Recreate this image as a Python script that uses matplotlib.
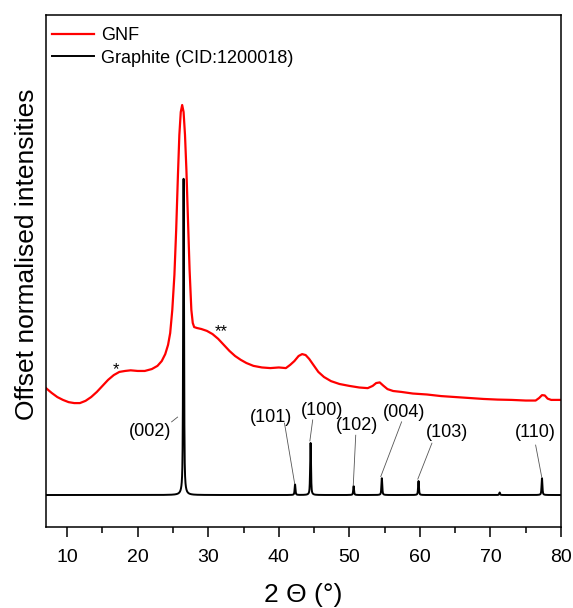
import numpy as np
import matplotlib
matplotlib.use("Agg")
import matplotlib.pyplot as plt
from matplotlib.ticker import MultipleLocator, NullLocator

plt.rcParams['font.family'] = ['Liberation Sans', 'DejaVu Sans']

# GNF diffractogram (offset, normalised to the graphite (002) reflection)
gnf_2theta = [7.0, 7.8, 8.6, 9.4, 10.2, 11.0, 11.8, 12.6, 13.4, 14.2, 15.0, 15.8,
              16.6, 17.4, 18.2, 19.0, 20.0, 21.0, 22.0, 22.8, 23.4, 23.9, 24.3,
              24.6, 24.9, 25.2, 25.45, 25.7, 25.9, 26.1, 26.3, 26.5, 26.7, 26.9,
              27.1, 27.35, 27.6, 27.8, 28.0, 28.4, 29.0, 29.8, 30.6, 31.4, 32.2,
              33.0, 33.8, 34.6, 35.4, 36.4, 37.6, 38.8, 40.0, 41.0, 41.6, 42.2,
              42.8, 43.3, 43.8, 44.3, 44.9, 45.6, 46.4, 47.4, 48.6, 50.0, 51.4,
              52.6, 53.3, 53.8, 54.3, 54.8, 55.4, 56.2, 57.4, 59.0, 61.0, 63.0,
              65.0, 67.0, 69.0, 71.0, 73.0, 75.0, 76.4, 76.9, 77.3, 77.7, 78.1,
              78.6, 79.3, 80.0]
gnf_intensity = [0.336, 0.321, 0.308, 0.299, 0.292, 0.289, 0.289, 0.296, 0.308,
                 0.324, 0.343, 0.362, 0.377, 0.387, 0.390, 0.392, 0.390, 0.390,
                 0.396, 0.406, 0.421, 0.443, 0.472, 0.509, 0.582, 0.692, 0.833,
                 1.006, 1.132, 1.204, 1.226, 1.204, 1.132, 1.022, 0.881, 0.708,
                 0.582, 0.541, 0.528, 0.525, 0.522, 0.516, 0.506, 0.491, 0.472,
                 0.453, 0.437, 0.425, 0.415, 0.406, 0.401, 0.399, 0.401, 0.399,
                 0.409, 0.421, 0.437, 0.443, 0.440, 0.428, 0.409, 0.387, 0.371,
                 0.358, 0.349, 0.343, 0.338, 0.336, 0.343, 0.352, 0.354, 0.344,
                 0.333, 0.327, 0.324, 0.319, 0.316, 0.311, 0.308, 0.305, 0.302,
                 0.300, 0.299, 0.297, 0.297, 0.305, 0.314, 0.313, 0.303, 0.299,
                 0.299, 0.299]

# Graphite reference reflections (CID:1200018)
graphite_pos = [26.5, 42.3, 44.5, 50.6, 54.6, 59.8, 71.3, 77.3]
graphite_height = [1.0, 0.033, 0.164, 0.028, 0.053, 0.044, 0.008, 0.053]
graphite_hkl = ['(002)', '(101)', '(100)', '(102)', '(004)', '(103)', None, '(110)']

# label text positions (2θ, intensity) and leader-line end points
label_xy = [(21.7, 0.200), (38.9, 0.245), (46.1, 0.267), (51.1, 0.220),
            (57.8, 0.258), (63.8, 0.195), None, (76.3, 0.195)]
leader_from = [(24.8, 0.230), (40.8, 0.226), (44.8, 0.236), (50.9, 0.188),
               (57.4, 0.230), (61.7, 0.163), None, (76.4, 0.157)]
leader_to = [(25.65, 0.245), (42.25, 0.035), (44.4, 0.170), (50.55, 0.030),
             (54.45, 0.058), (59.7, 0.050), None, (77.25, 0.058)]

# simulated reference trace: narrow pseudo-Voigt profile on each reflection
tt = np.linspace(7, 80, 6000)
fwhm = 0.14
graphite_trace = np.zeros_like(tt)
for p, h in zip(graphite_pos, graphite_height):
    d = (tt - p) / (fwhm / 2)
    lor = 1.0 / (1.0 + d ** 2)
    gau = np.exp(-np.log(2) * d ** 2)
    graphite_trace += h * (0.6 * lor + 0.4 * gau)

fig = plt.figure(figsize=(5.73, 6.08), dpi=100)
ax = fig.add_axes([0.0803, 0.1332, 0.8988, 0.8421])

ax.plot(gnf_2theta, gnf_intensity, color='#ff0000', lw=1.6, label='GNF')
ax.plot(tt, graphite_trace, color='black', lw=1.4, label='Graphite (CID:1200018)')

for lab, xy, src, dst in zip(graphite_hkl, label_xy, leader_from, leader_to):
    if lab is None:
        continue
    ax.text(xy[0], xy[1], lab, fontsize=13, ha='center', va='center')
    ax.plot([src[0], dst[0]], [src[1], dst[1]], color='#555555', lw=0.6)

ax.text(16.85, 0.395, '*', fontsize=12, ha='center', va='center')
ax.text(31.9, 0.515, '**', fontsize=12, ha='center', va='center')

ax.set_xlim(7, 80)
ax.set_ylim(-0.1006, 1.509)
ax.xaxis.set_major_locator(MultipleLocator(10))
ax.xaxis.set_minor_locator(MultipleLocator(5))
ax.yaxis.set_major_locator(NullLocator())
ax.tick_params(axis='x', which='major', direction='out', length=7, width=1.1,
               labelsize=14, pad=9)
ax.tick_params(axis='x', which='minor', direction='out', length=4, width=1.1)
for s in ax.spines.values():
    s.set_linewidth(1.1)

ax.set_xlabel('2 Θ (°)', fontsize=19, labelpad=12)
ax.set_ylabel('Offset normalised intensities', fontsize=19)
ax.yaxis.set_label_coords(-0.013, 0.533)

leg = ax.legend(loc='upper left', bbox_to_anchor=(0.0, 0.988), fontsize=13,
                frameon=False, borderaxespad=0.0, handlelength=2.3,
                handletextpad=0.4, borderpad=0.35, labelspacing=0.28)

fig.savefig('out.png', dpi=100)
